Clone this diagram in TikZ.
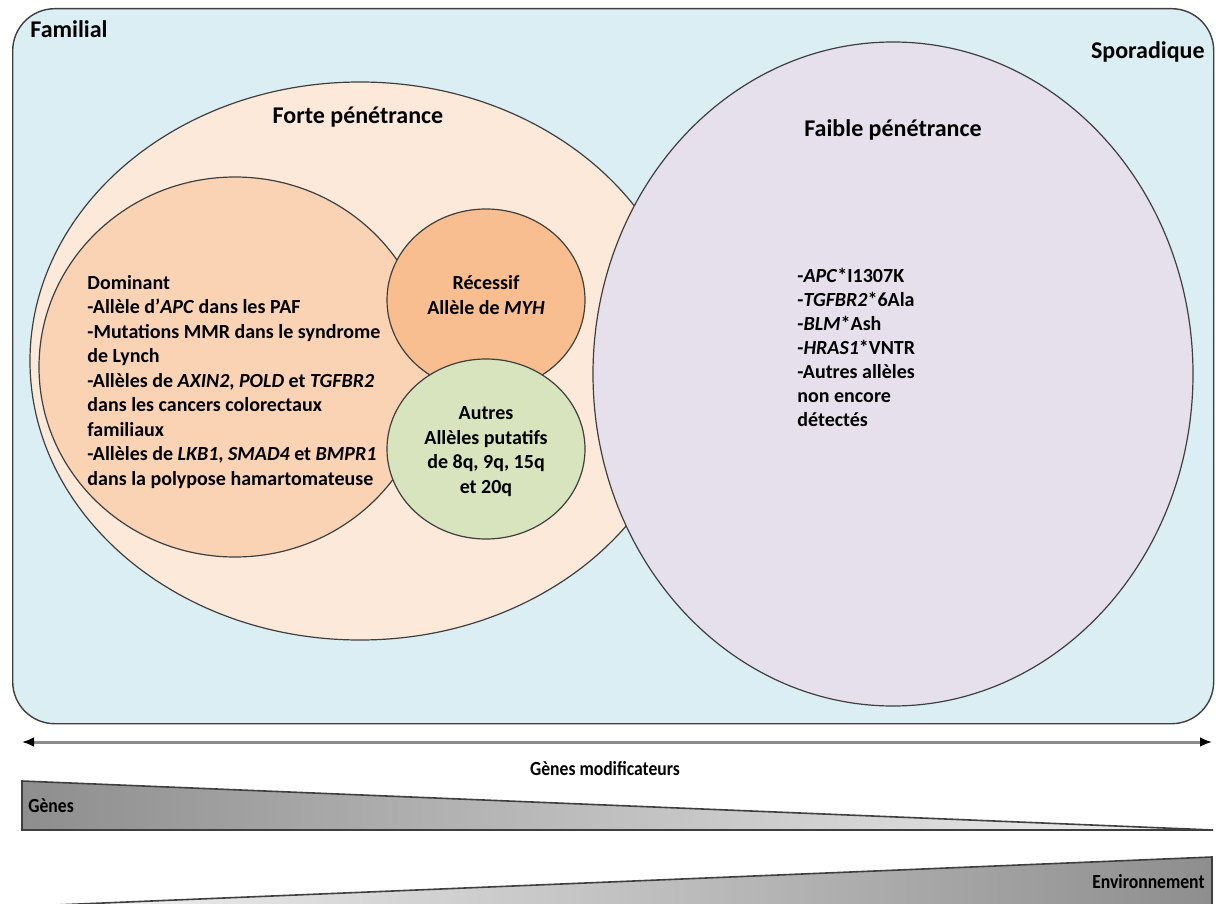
\documentclass[tikz,border=0pt]{standalone}
\usepackage{fontspec}
\setmainfont{Carlito}
\newfontfamily\condfont[FakeStretch=0.88]{Carlito}
\usetikzlibrary{shapes.geometric,arrows.meta}
\definecolor{bgblue}{HTML}{DAEEF3}
\definecolor{edgegray}{HTML}{3F3F3F}
\definecolor{fortefill}{HTML}{FDE9D9}
\definecolor{domfill}{HTML}{FAD3B4}
\definecolor{recfill}{HTML}{F9BE8F}
\definecolor{autfill}{HTML}{D7E4BD}
\definecolor{purplefill}{HTML}{E5E0EC}
\definecolor{arrowgray}{HTML}{8C8C8C}
\definecolor{shadedark}{HTML}{8E8E8E}
\definecolor{shadelight}{HTML}{F2F2F2}
\begin{document}
\begin{tikzpicture}[x=0.5pt,y=-0.5pt,
  blob/.style={ellipse, draw=edgegray, line width=0.6pt, inner sep=0pt},
  title/.style={font=\fontsize{12}{14}\selectfont\bfseries, inner sep=0pt},
  body/.style={font=\fontsize{10}{12.25}\selectfont\bfseries, inner sep=0pt},
  foot/.style={font=\condfont\fontsize{10}{12}\selectfont\bfseries, inner sep=0pt},
  wedge/.style={draw=edgegray, line width=0.8pt, line join=miter}
]
\useasboundingbox (0,0) rectangle (1216,904);

% frame
\node[draw=edgegray, line width=0.7pt, fill=bgblue, rounded corners=21pt,
      minimum width=600.5pt, minimum height=357.5pt, anchor=north west, inner sep=0pt]
      (frame) at (12,8) {};

% ellipses
\node[blob, fill=fortefill, minimum width=330pt, minimum height=279pt] (forte) at (360,361) {};
\node[blob, fill=domfill, minimum width=196pt, minimum height=190pt] (dom) at (235,367) {};
\node[blob, fill=recfill, minimum width=99pt, minimum height=91pt] (rec) at (486,300) {};
\node[blob, fill=autfill, minimum width=99pt, minimum height=90pt] (aut) at (486,449) {};
\node[blob, fill=purplefill, minimum width=300pt, minimum height=332pt] (faible) at (893,374) {};

% titles
\node[title, anchor=west] (familial) at (30,29) {Familial};
\node[title, anchor=east] (sporadique) at (1205,52) {Sporadique};
\node[title] (fortet) at (358,117) {Forte pénétrance};
\node[title] (faiblet) at (893,130) {Faible pénétrance};

% dominant text (base anchor = baseline of last line)
\node[body, anchor=base west, align=left] (domt) at (87,485) {Dominant\\
-Allèle d'\textit{APC} dans les PAF\\
-Mutations MMR dans le syndrome\\
de Lynch\\
-Allèles de \textit{AXIN2}, \textit{POLD} et \textit{TGFBR2}\\
dans les cancers colorectaux\\
familiaux\\
-Allèles de \textit{LKB1}, \textit{SMAD4} et \textit{BMPR1}\\
dans la polypose hamartomateuse};

\node[body, anchor=base, align=center] (rect) at (486,314) {Récessif\\Allèle de \textit{MYH}};
\node[body, anchor=base, align=center] (autt) at (486,493) {Autres\\Allèles putatifs\\de 8q, 9q, 15q\\et 20q};

\node[body, anchor=base west, align=left, font=\fontsize{10}{12}\selectfont\bfseries] (faiblelist) at (797,426) {-\textit{APC}*I1307K\\
-\textit{TGFBR2}*6Ala\\
-\textit{BLM}*Ash\\
-\textit{HRAS1}*VNTR\\
-Autres allèles\\
non encore\\
détectés};

% double arrow
\coordinate (aL) at (22,742);
\coordinate (aR) at (1212,742);
\draw[arrowgray, line width=1.5pt,
  {Latex[color=black,length=6pt,width=5pt]}-{Latex[color=black,length=6pt,width=5pt]}] (aL) -- (aR);
\node[foot] (modif) at (605,769) {Gènes modificateurs};

% genes wedge
\coordinate (g1) at (22,781);
\coordinate (g2) at (1213,830);
\coordinate (g3) at (22,830);
\shade[left color=shadedark, right color=shadelight] (g1) -- (g2) -- (g3) -- cycle;
\draw[wedge] (g1) -- (g2) -- (g3) -- cycle;
\node[foot, anchor=west] (genes) at (28,806) {Gènes};

% environment wedge
\coordinate (e1) at (55,905);
\coordinate (e2) at (1212,857);
\coordinate (e3) at (1212,905);
\shade[left color=shadelight, right color=shadedark] (e1) -- (e2) -- (e3) -- cycle;
\draw[wedge] (e1) -- (e2) -- (e3);
\node[foot, anchor=east] (env) at (1205,882) {Environnement};
\end{tikzpicture}
\end{document}
